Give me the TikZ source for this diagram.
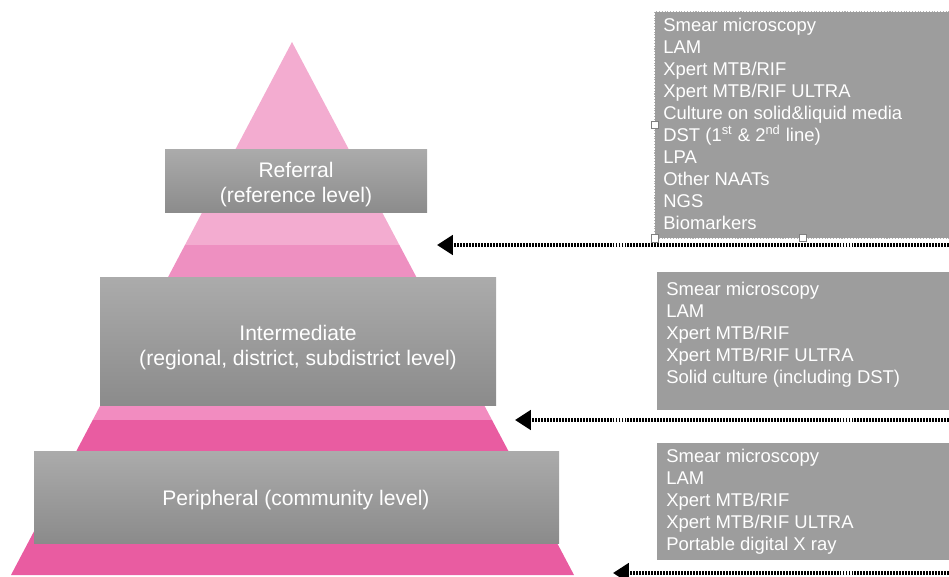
\documentclass[tikz,border=0pt]{standalone}
\usepackage{fontspec}
\setmainfont{Liberation Sans}
\usetikzlibrary{arrows.meta, fit}

\definecolor{pinkLight}{HTML}{F3ACD0}
\definecolor{pinkMid}{HTML}{EE90C1}
\definecolor{pinkPale}{HTML}{F28CC0}
\definecolor{pinkHot}{HTML}{E95CA1}
\definecolor{boxTop}{HTML}{ABABAB}
\definecolor{boxBot}{HTML}{8B8B8B}
\definecolor{listGray}{HTML}{9D9D9D}

\begin{document}
\begin{tikzpicture}[x=0.02cm, y=-0.02cm,
  levelbox/.style={inner sep=0pt, top color=boxTop, bottom color=boxBot},
  leveltext/.style={inner sep=0pt, text=white, align=center, font=\fontsize{12}{14.2}\selectfont},
  listbox/.style={inner sep=0pt, fill=listGray},
  listtext/.style={anchor=north west, inner sep=0pt, text=white, align=left, font=\fontsize{10.5}{12.5}\selectfont},
  feed/.style={line width=2pt, dash pattern=on 1.1pt off 0.6pt, -{Triangle[length=9pt, width=11pt]}},
  handle/.style={draw=gray, fill=white, line width=0.4pt, minimum size=4pt, inner sep=0pt}
]

\useasboundingbox (0,0) rectangle (949,577);

% pyramid bands
\begin{scope}
\clip (292,42) -- (574,575) -- (11,575) -- cycle;
\fill[pinkLight] (0,0) rectangle (600,245);
\fill[pinkMid] (0,245) rectangle (600,405);
\fill[pinkPale] (0,405) rectangle (600,420);
\fill[pinkHot] (0,420) rectangle (600,577);
\end{scope}

% levels
\node[levelbox, fit={(165,150) (427,213)}] (referral) {};
\node[levelbox, fit={(100,278) (496,405)}] (intermediate) {};
\node[levelbox, fit={(34,451) (559,543)}] (peripheral) {};
\node[leveltext] (referralText) at (296,185) {Referral\\(reference level)};
\node[leveltext] (intermediateText) at (298,348) {Intermediate\\(regional, district, subdistrict level)};
\node[leveltext] (peripheralText) at (296,500) {Peripheral (community level)};

% test lists
\node[listbox, fit={(655,12) (949,238)}] (refBox) {};
\draw[gray!60, densely dotted, line width=0.6pt] (refBox.south east) -| (refBox.north west) -- (refBox.north east);
\node[handle] (hLeft) at (refBox.west) {};
\node[handle] (hLow) at (refBox.south west) {};
\node[handle] (hMid) at (803,238) {};
\node[listtext] (refList) at (663,18) {Smear microscopy\\LAM\\Xpert MTB/RIF\\Xpert MTB/RIF ULTRA\\Culture on solid\&liquid media\\DST (1\textsuperscript{st} \& 2\textsuperscript{nd} line)\\LPA\\Other NAATs\\NGS\\Biomarkers};

\node[listbox, fit={(657,272) (949,410)}] (intBox) {};
\node[listtext] (intList) at (666,282) {Smear microscopy\\LAM\\Xpert MTB/RIF\\Xpert MTB/RIF ULTRA\\Solid culture (including DST)};

\node[listbox, fit={(657,443) (949,560)}] (perBox) {};
\node[listtext] (perList) at (666,449) {Smear microscopy\\LAM\\Xpert MTB/RIF\\Xpert MTB/RIF ULTRA\\Portable digital X ray};

% arrows
\coordinate (refTail) at (949,245);
\coordinate (refTip) at (437,245);
\coordinate (intTail) at (949,420);
\coordinate (intTip) at (515,420);
\coordinate (perTail) at (949,573);
\coordinate (perTip) at (613,573);
\draw[feed] (refTail) -- (refTip);
\draw[feed] (intTail) -- (intTip);
\draw[feed] (perTail) -- (perTip);

\end{tikzpicture}
\end{document}
